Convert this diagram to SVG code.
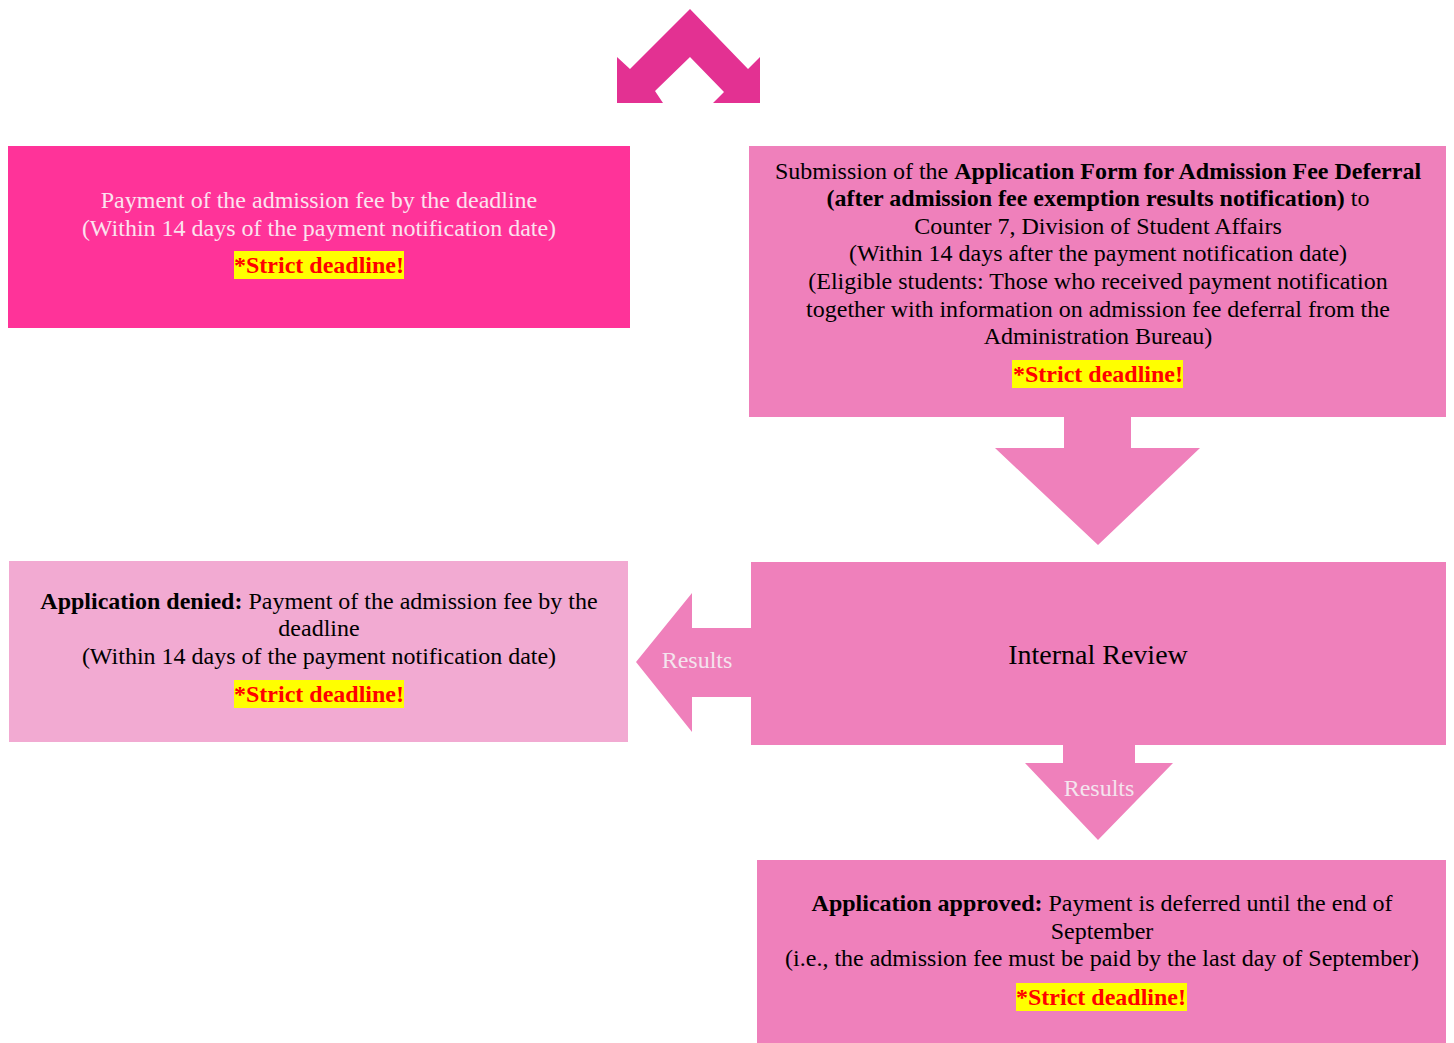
<svg xmlns="http://www.w3.org/2000/svg" width="1454" height="1043" viewBox="0 0 1454 1043">
<style>
text{font-family:"Liberation Serif","Times New Roman",serif;font-size:24px;text-anchor:middle}
.dk{fill:#000}
.lt{fill:#FBE3EF}
.b{font-weight:bold}
.st{font-weight:bold;fill:#FF0000}
.hl{fill:#FFFF00}
.res{fill:#F4E4EE;font-size:24px}
</style>
<rect width="1454" height="1043" fill="#FFFFFF"/>
<g id="connectors">
<polygon id="top-arrow" points="617,57 630,69 690,9 748,69 760,57 760,103 713,103 724,92 690,57 655,91 663,103 617,103" fill="#E33192"/>
<polygon id="arrow-down-1" points="1064,417 1131,417 1131,448 1200,448 1098,545 995,448 1064,448" fill="#EF80BB"/>
<polygon id="arrow-left" points="751,628 692,628 692,593 636,662 692,732 692,697 751,697" fill="#EF80BB"/>
<text class="res" x="697" y="668">Results</text>
<polygon id="arrow-down-2" points="1063,745 1135,745 1135,763 1173,763 1098,840 1025,763 1063,763" fill="#EF80BB"/>
<text class="res" x="1099" y="796">Results</text>
</g>
<g id="node-payment">
<rect x="8" y="146" width="622" height="182" fill="#FF3399"/>
<text class="lt" x="319" y="208">Payment of the admission fee by the deadline</text>
<text class="lt" x="319" y="236">(Within 14 days of the payment notification date)</text>
<rect class="hl" x="234" y="251" width="170" height="28"/>
<text class="st" x="319" y="273">*Strict deadline!</text>
</g>
<g id="node-submission">
<rect x="749" y="146" width="697" height="271" fill="#EF80BB"/>
<text class="dk" x="1098" y="179">Submission of the <tspan class="b">Application Form for Admission Fee Deferral</tspan></text>
<text class="dk" x="1098" y="206"><tspan class="b">(after admission fee exemption results notification)</tspan> to</text>
<text class="dk" x="1098" y="234">Counter 7, Division of Student Affairs</text>
<text class="dk" x="1098" y="261">(Within 14 days after the payment notification date)</text>
<text class="dk" x="1098" y="289">(Eligible students: Those who received payment notification</text>
<text class="dk" x="1098" y="317">together with information on admission fee deferral from the</text>
<text class="dk" x="1098" y="344">Administration Bureau)</text>
<rect class="hl" x="1012" y="360" width="171" height="28"/>
<text class="st" x="1098" y="382">*Strict deadline!</text>
</g>
<g id="node-review">
<rect x="751" y="562" width="695" height="183" fill="#EF80BB"/>
<text class="dk" x="1098" y="664" style="font-size:28px">Internal Review</text>
</g>
<g id="node-denied">
<rect x="9" y="561" width="619" height="181" fill="#F2AAD2"/>
<text class="dk" x="319" y="609"><tspan class="b">Application denied:</tspan> Payment of the admission fee by the</text>
<text class="dk" x="319" y="636">deadline</text>
<text class="dk" x="319" y="664">(Within 14 days of the payment notification date)</text>
<rect class="hl" x="234" y="680" width="170" height="28"/>
<text class="st" x="319" y="702">*Strict deadline!</text>
</g>
<g id="node-approved">
<rect x="757" y="860" width="689" height="183" fill="#EF80BB"/>
<text class="dk" x="1102" y="911"><tspan class="b">Application approved:</tspan> Payment is deferred until the end of</text>
<text class="dk" x="1102" y="939">September</text>
<text class="dk" x="1102" y="966">(i.e., the admission fee must be paid by the last day of September)</text>
<rect class="hl" x="1016" y="983" width="171" height="28"/>
<text class="st" x="1101" y="1005">*Strict deadline!</text>
</g>
</svg>
